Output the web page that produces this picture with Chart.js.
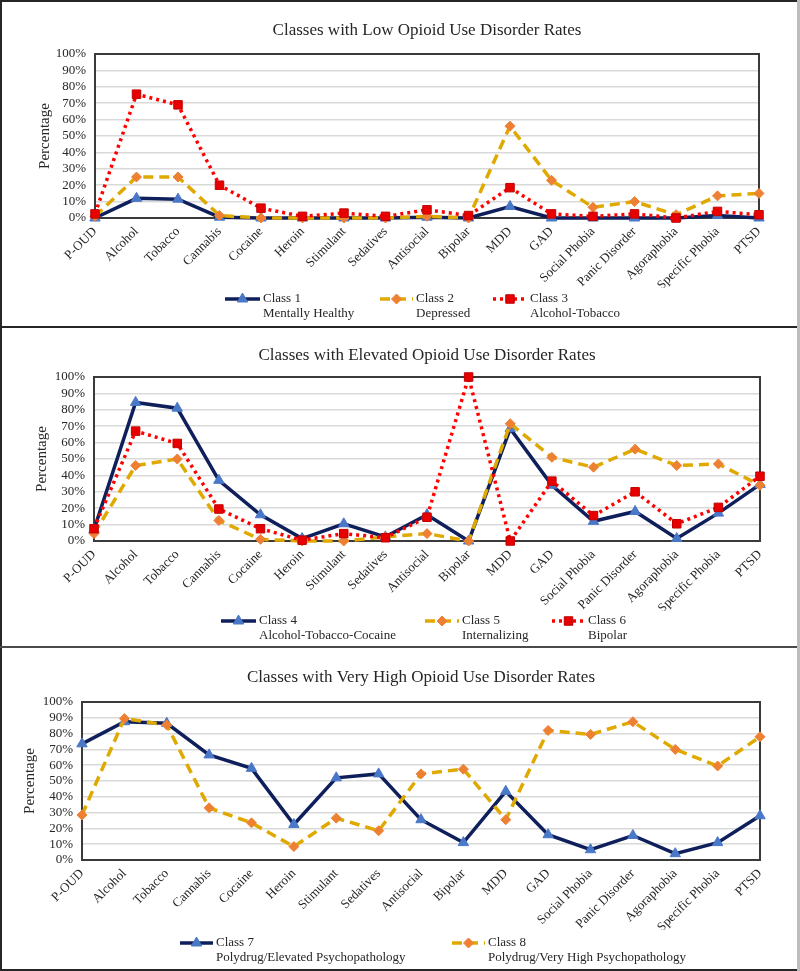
<!DOCTYPE html>
<html>
<head>
<meta charset="utf-8">
<script src="https://cdn.jsdelivr.net/npm/chart.js@4.4.0/dist/chart.umd.min.js"></script>
<style>
html,body{margin:0;padding:0;background:#fff;}
#wrap{position:relative;width:800px;height:971px;overflow:hidden;background:#fff;}
.cv{position:absolute;left:0;}
.ln{position:absolute;background:#262626;z-index:5;}
</style>
</head>
<body>
<div id="wrap">
  <canvas id="c1" class="cv" width="800" height="326" style="top:0px"></canvas>
  <canvas id="c2" class="cv" width="800" height="318" style="top:328px"></canvas>
  <canvas id="c3" class="cv" width="800" height="321" style="top:648px"></canvas>
  <div class="ln" style="left:0;top:0;width:2px;height:971px"></div>
  <div class="ln" style="left:0;top:0;width:800px;height:2px"></div>
  <div class="ln" style="left:0;top:326px;width:798px;height:2px"></div>
  <div class="ln" style="left:0;top:646px;width:798px;height:2px;background:#4a4a4a"></div>
  <div class="ln" style="left:0;top:969px;width:800px;height:2px"></div>
  <div class="ln" style="left:797px;top:0;width:3px;height:971px;background:#bdbdbd"></div>
</div>
<script>
// ---------- data ----------
const categories = ['P-OUD','Alcohol','Tobacco','Cannabis','Cocaine','Heroin','Stimulant','Sedatives','Antisocial','Bipolar','MDD','GAD','Social Phobia','Panic Disorder','Agoraphobia','Specific Phobia','PTSD'];
const yTickLabels = ['0%','10%','20%','30%','40%','50%','60%','70%','80%','90%','100%'];

const panelTitles = [
  'Classes with Low Opioid Use Disorder Rates',
  'Classes with Elevated Opioid Use Disorder Rates',
  'Classes with Very High Opioid Use Disorder Rates'
];
const classNames = ['Class 1','Class 2','Class 3','Class 4','Class 5','Class 6','Class 7','Class 8'];
const classDescriptions = ['Mentally Healthy','Depressed','Alcohol-Tobacco','Alcohol-Tobacco-Cocaine','Internalizing','Bipolar','Polydrug/Elevated Psychopathology','Polydrug/Very High Psychopathology'];

const class1 = [0, 12, 11.5, 0.5, 0, 0, 0, 0, 0.5, 0, 7, 0, 0, 0, 0, 1.5, 0];
const class2 = [1, 25, 25, 1.5, 0, 0, 0, 0, 1, 0, 56, 23, 6.5, 10, 2, 13.5, 15];
const class3 = [2.5, 75.5, 69, 20, 6, 1, 3, 1, 5, 1.5, 18.5, 2.5, 1, 2.5, 0, 4, 2];

const class4 = [7, 84.5, 81, 37, 16, 1.5, 10.5, 2.5, 16, 0, 68.5, 34, 12, 18, 1.5, 17, 34.5];
const class5 = [4.5, 46, 50, 12.5, 1, 0, 0, 2.5, 4.5, 0, 71.5, 51, 45, 56, 46, 47, 34];
const class6 = [7.5, 67, 59.5, 19.5, 7.5, 0.5, 4.5, 2, 14.5, 100, 0, 36.5, 15.5, 30, 10.5, 20.5, 39.5];

const class7 = [73.5, 87.5, 86.5, 66.5, 58, 22.5, 52, 54.5, 25.5, 11, 43.5, 16, 6.5, 15.5, 4, 11, 28];
const class8 = [28.5, 89.5, 85.5, 33, 23.5, 8.5, 26.5, 18.5, 54.5, 57.5, 25.5, 82, 79.5, 87.5, 70, 59.5, 78];

// ---------- styles ----------
const FONT = '"Liberation Serif", "Times New Roman", serif';
const TXT = '#262626';
const styleNavy = {borderColor:'#0e1f5b', borderDash:[], pointStyle:'triangle', pointRadius:6, pointBackgroundColor:'#4a78c8', pointBorderColor:'#4a78c8'};
const styleGold = {borderColor:'#dfa900', borderDash:[10,6], pointStyle:'rectRot', pointRadius:5, pointBackgroundColor:'#ee8033', pointBorderColor:'#ee8033'};
const styleRed  = {borderColor:'#ff0000', borderDash:[3,4], pointStyle:'rect', pointRadius:6, pointBackgroundColor:'#e80000', pointBorderColor:'#c00000'};

function mkDataset(idx, values, st, order) {
  return Object.assign({
    label: classNames[idx],
    data: values,
    borderWidth: 3.5,
    pointBorderWidth: 1,
    pointHoverRadius: 6,
    tension: 0,
    fill: false,
    clip: false,
    order: order,
    descIndex: idx
  }, st);
}

const framePlugin = {
  id: 'plotFrame',
  beforeDatasetsDraw(chart) {
    const a = chart.chartArea, ctx = chart.ctx;
    ctx.save();
    ctx.strokeStyle = '#3a3a3a';
    ctx.lineWidth = 2;
    ctx.strokeRect(a.left, a.top, a.right - a.left, a.bottom - a.top);
    ctx.restore();
  }
};

const legendPlugin = {
  id: 'classLegend',
  afterDraw(chart, args, opts) {
    const ctx = chart.ctx;
    const dsets = chart.data.datasets;
    dsets.forEach((ds, i) => {
      const p = opts.positions[i];
      const y = opts.y;
      ctx.save();
      ctx.strokeStyle = ds.borderColor;
      ctx.lineWidth = ds.borderWidth;
      ctx.setLineDash(ds.borderDash || []);
      ctx.beginPath();
      ctx.moveTo(p[0], y);
      ctx.lineTo(p[1], y);
      ctx.stroke();
      ctx.restore();
      ctx.save();
      ctx.fillStyle = ds.pointBackgroundColor;
      ctx.strokeStyle = ds.pointBorderColor;
      ctx.lineWidth = ds.pointBorderWidth;
      if (Chart.helpers && Chart.helpers.drawPoint) {
        Chart.helpers.drawPoint(ctx, {pointStyle: ds.pointStyle, radius: ds.pointRadius, rotation: 0, borderWidth: ds.pointBorderWidth}, (p[0] + p[1]) / 2, y);
      }
      ctx.restore();
      ctx.save();
      ctx.fillStyle = TXT;
      ctx.font = '13px ' + FONT;
      ctx.textBaseline = 'middle';
      ctx.textAlign = 'left';
      ctx.fillText(ds.label, p[1] + 3, y);
      ctx.fillText(classDescriptions[ds.descIndex], p[1] + 3, y + 15);
      ctx.restore();
    });
  }
};

function makeChart(id, title, datasets, L) {
  return new Chart(document.getElementById(id), {
    type: 'line',
    data: { labels: categories, datasets: datasets },
    plugins: [framePlugin, legendPlugin],
    options: {
      responsive: false,
      animation: false,
      events: [],
      layout: { padding: { left: 0, right: L.right, top: 0, bottom: L.bottom } },
      plugins: {
        legend: { display: false },
        tooltip: { enabled: false },
        title: {
          display: true,
          text: title,
          fullSize: false,
          color: TXT,
          font: { family: FONT, size: 17, weight: 'normal', lineHeight: 1.2 },
          padding: { top: L.titleTop, bottom: L.titleBottom }
        },
        classLegend: { y: L.legendY, positions: L.legendPos }
      },
      scales: {
        x: {
          offset: false,
          grid: { display: false, drawTicks: false },
          border: { display: false },
          ticks: {
            color: TXT,
            font: { family: FONT, size: 13 },
            minRotation: 45,
            maxRotation: 45,
            autoSkip: false,
            padding: 6
          },
          afterFit: (s) => { s.height = 70; }
        },
        y: {
          min: 0,
          max: 100,
          grid: { color: '#d9d9d9', lineWidth: 1.5, drawTicks: false },
          border: { display: false },
          ticks: {
            stepSize: 10,
            autoSkip: false,
            color: TXT,
            font: { family: FONT, size: 13 },
            padding: 9,
            callback: (v) => yTickLabels[Math.round(v / 10)]
          },
          title: {
            display: true,
            text: 'Percentage',
            color: TXT,
            font: { family: FONT, size: 15 },
            padding: { top: L.yTitlePad, bottom: 0 }
          },
          afterFit: (s) => { s.width = L.yWidth; }
        }
      }
    }
  });
}

makeChart('c1', panelTitles[0], [
  mkDataset(0, class1, styleNavy, 3),
  mkDataset(1, class2, styleGold, 2),
  mkDataset(2, class3, styleRed, 1)
], { right: 41, bottom: 38, titleTop: 20, titleBottom: 13.6, yWidth: 95, yTitlePad: 36,
     legendY: 299, legendPos: [[225,260],[380,413],[493,527]] });

makeChart('c2', panelTitles[1], [
  mkDataset(3, class4, styleNavy, 3),
  mkDataset(4, class5, styleGold, 2),
  mkDataset(5, class6, styleRed, 1)
], { right: 40, bottom: 35, titleTop: 17, titleBottom: 11.6, yWidth: 94, yTitlePad: 33,
     legendY: 293, legendPos: [[221,256],[425,459],[552,585]] });

makeChart('c3', panelTitles[2], [
  mkDataset(6, class7, styleNavy, 2),
  mkDataset(7, class8, styleGold, 1)
], { right: 40, bottom: 39, titleTop: 19, titleBottom: 14.6, yWidth: 82, yTitlePad: 21,
     legendY: 295, legendPos: [[180,213],[452,485]] });
</script>
</body>
</html>
